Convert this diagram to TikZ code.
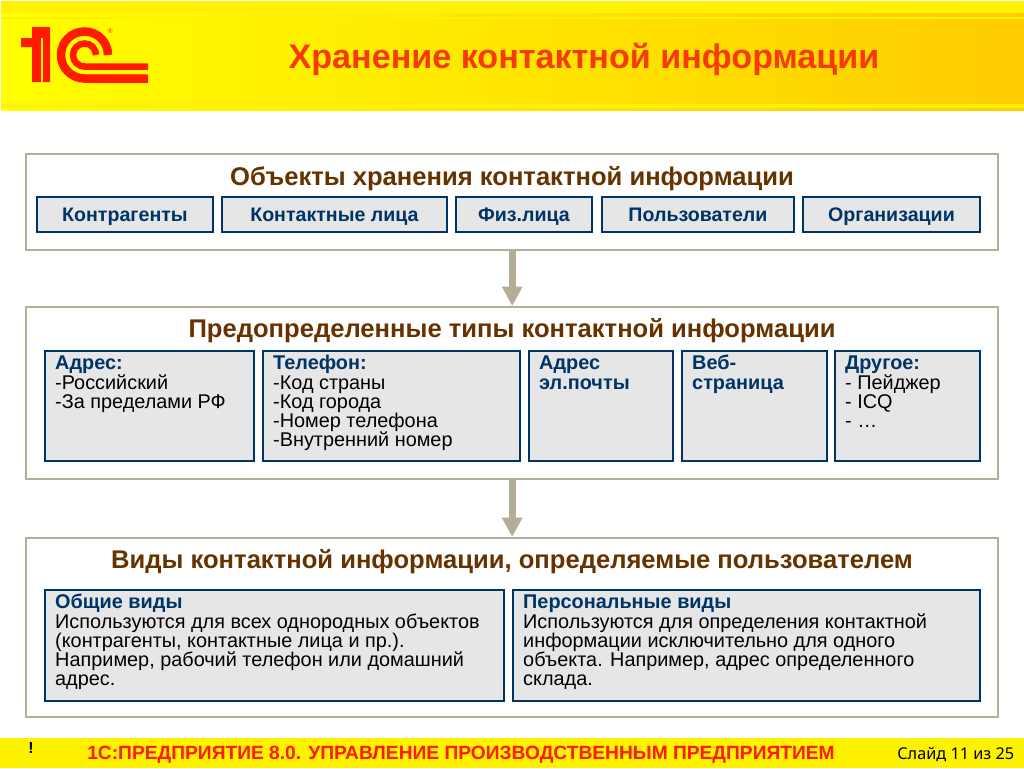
\documentclass[tikz,border=0pt]{standalone}
\usepackage{fontspec}
\setmainfont{Liberation Sans}
\newfontfamily\footfont{Noto Sans}
\usetikzlibrary{arrows.meta}
\definecolor{tan1c}{HTML}{B5AE96}
\definecolor{navy1c}{HTML}{003366}
\definecolor{brown1c}{HTML}{663300}
\definecolor{grey1c}{HTML}{E6E6E6}
\definecolor{red1c}{HTML}{FF1A00}
\definecolor{title1c}{HTML}{F53C08}
\definecolor{amber1c}{HTML}{FFCC00}
\newdimen\px \px=0.75pt
\newcommand{\cardbody}[3]{\parbox[t][#2\px][t]{#1\px}{\raggedright\lineskiplimit=-8pt\rule{0pt}{11.5pt}#3}}
\newcommand{\cardhead}[1]{\textbf{\textcolor{navy1c}{#1}}}

\begin{document}
\begin{tikzpicture}[x=0.75pt,y=-0.75pt,
    panel/.style={draw=tan1c,line width=1.8pt,fill=white,anchor=north west,inner sep=0pt},
    item/.style={draw=navy1c,line width=1.8pt,fill=grey1c,anchor=north west,inner sep=0pt,
                 font=\fontsize{14.7}{14.7}\selectfont\bfseries,text=navy1c,text height=12.5pt,text depth=2pt},
    card/.style={draw=navy1c,line width=1.8pt,fill=grey1c,anchor=north west,inner xsep=7.5pt,inner ysep=2.5pt,
                 font=\fontsize{14.9}{14.4}\selectfont},
    heading/.style={font=\fontsize{19.2}{20}\selectfont\bfseries,text=brown1c},
    flow/.style={draw=tan1c,line width=5pt,-{Triangle[length=14.5pt,width=14.5pt]}},
    logoline/.style={draw=red1c,line cap=butt}]
  \useasboundingbox (0,0) rectangle (1024,768);
  \fill[white] (0,0) rectangle (1024,768);

  % header and footer
  \fill[yellow] (1,1) rectangle (1024,110);
  \shade[left color=yellow,right color=amber1c] (1,13) rectangle (1024,16);
  \shade[left color=yellow,right color=amber1c] (1,19) rectangle (1024,103);
  \shade[left color=yellow,right color=amber1c] (1,108) rectangle (1024,110);
  \fill[yellow] (0,738) rectangle (1024,768);

  % logo
  \fill[red1c] (21,38) -- (32,38) -- (32,27) -- (50,27) -- (50,82) -- (32,82) -- (32,47) -- (21,47) -- cycle;
  \fill[yellow] (41,38) rectangle (43,82);
  \draw[logoline,line width=8.5\px] (108,55) arc[start angle=0,end angle=-270,radius=23.5] -- (148,78.5);
  \draw[logoline,line width=6.5\px] (96,55) arc[start angle=0,end angle=-270,radius=11.5] -- (148,66.5);
  \node[font=\fontsize{5}{5}\selectfont,text=red1c,inner sep=0pt] (reg) at (110,31) {®};

  \node[font=\fontsize{25.6}{26}\selectfont\bfseries,text=title1c] (title) at (584,59) {Хранение контактной информации};

  % panels
  \node[panel,minimum width=972\px,minimum height=95.5\px] (objects) at (25,153) {};
  \node[panel,minimum width=972\px,minimum height=171.5\px] (types) at (25,306) {};
  \node[panel,minimum width=972\px,minimum height=178.5\px] (kinds) at (25,537) {};

  \draw[flow] (objects) -- (types);
  \draw[flow] (types) -- (kinds);

  \node[heading] (objectshead) at (512,178.5) {Объекты хранения контактной информации};
  \node[heading] (typeshead) at (512,331) {Предопределенные типы контактной информации};
  \node[heading] (kindshead) at (512,562) {Виды контактной информации, определяемые пользователем};

  % objects
  \node[item,minimum width=175.5\px,minimum height=34.5\px] (partners) at (36,196) {Контрагенты};
  \node[item,minimum width=224.5\px,minimum height=34.5\px] (persons) at (221,196) {Контактные лица};
  \node[item,minimum width=135.5\px,minimum height=34.5\px] (phys) at (455,196) {Физ.лица};
  \node[item,minimum width=191.5\px,minimum height=34.5\px] (users) at (601,196) {Пользователи};
  \node[item,minimum width=176.5\px,minimum height=34.5\px] (orgs) at (802,196) {Организации};

  % predefined types
  \node[card] (address) at (44,350) {\cardbody{188.5}{103}{\cardhead{Адрес:}\\-Российский\\-За пределами РФ}};
  \node[card] (phone) at (262,350) {\cardbody{236.5}{103}{\cardhead{Телефон:}\\-Код страны\\-Код города\\-Номер телефона\\-Внутренний номер}};
  \node[card] (mail) at (528,350) {\cardbody{123.5}{103}{\cardhead{Адрес}\\\cardhead{эл.почты}}};
  \node[card] (web) at (681,350) {\cardbody{124.5}{103}{\cardhead{Веб-}\\\cardhead{страница}}};
  \node[card] (other) at (834,350) {\cardbody{124.5}{103}{\cardhead{Другое:}\\- Пейджер\\- ICQ\\- …}};

  % user kinds
  \node[card] (common) at (44,589) {\cardbody{438.5}{104}{\cardhead{Общие виды}\\Используются для всех однородных объектов\\(контрагенты, контактные лица и пр.).\\Например, рабочий телефон или домашний\\адрес.}};
  \node[card] (personal) at (512,589) {\cardbody{446.5}{104}{\cardhead{Персональные виды}\\Используются для определения контактной\\информации исключительно для одного\\объекта. Например, адрес определенного\\склада.}};

  % footer
  \node[font=\fontsize{12}{12}\selectfont\bfseries] (mark) at (31,748) {!};
  \node[font=\fontsize{14.4}{14}\selectfont\bfseries,text=red1c] (product) at (461,755) {1С:ПРЕДПРИЯТИЕ 8.0. УПРАВЛЕНИЕ ПРОИЗВОДСТВЕННЫМ ПРЕДПРИЯТИЕМ};
  \node[font=\footfont\fontsize{12.2}{13}\selectfont,anchor=east,inner xsep=0pt] (slide) at (1014.5,755) {Слайд 11 из 25};
\end{tikzpicture}
\end{document}
